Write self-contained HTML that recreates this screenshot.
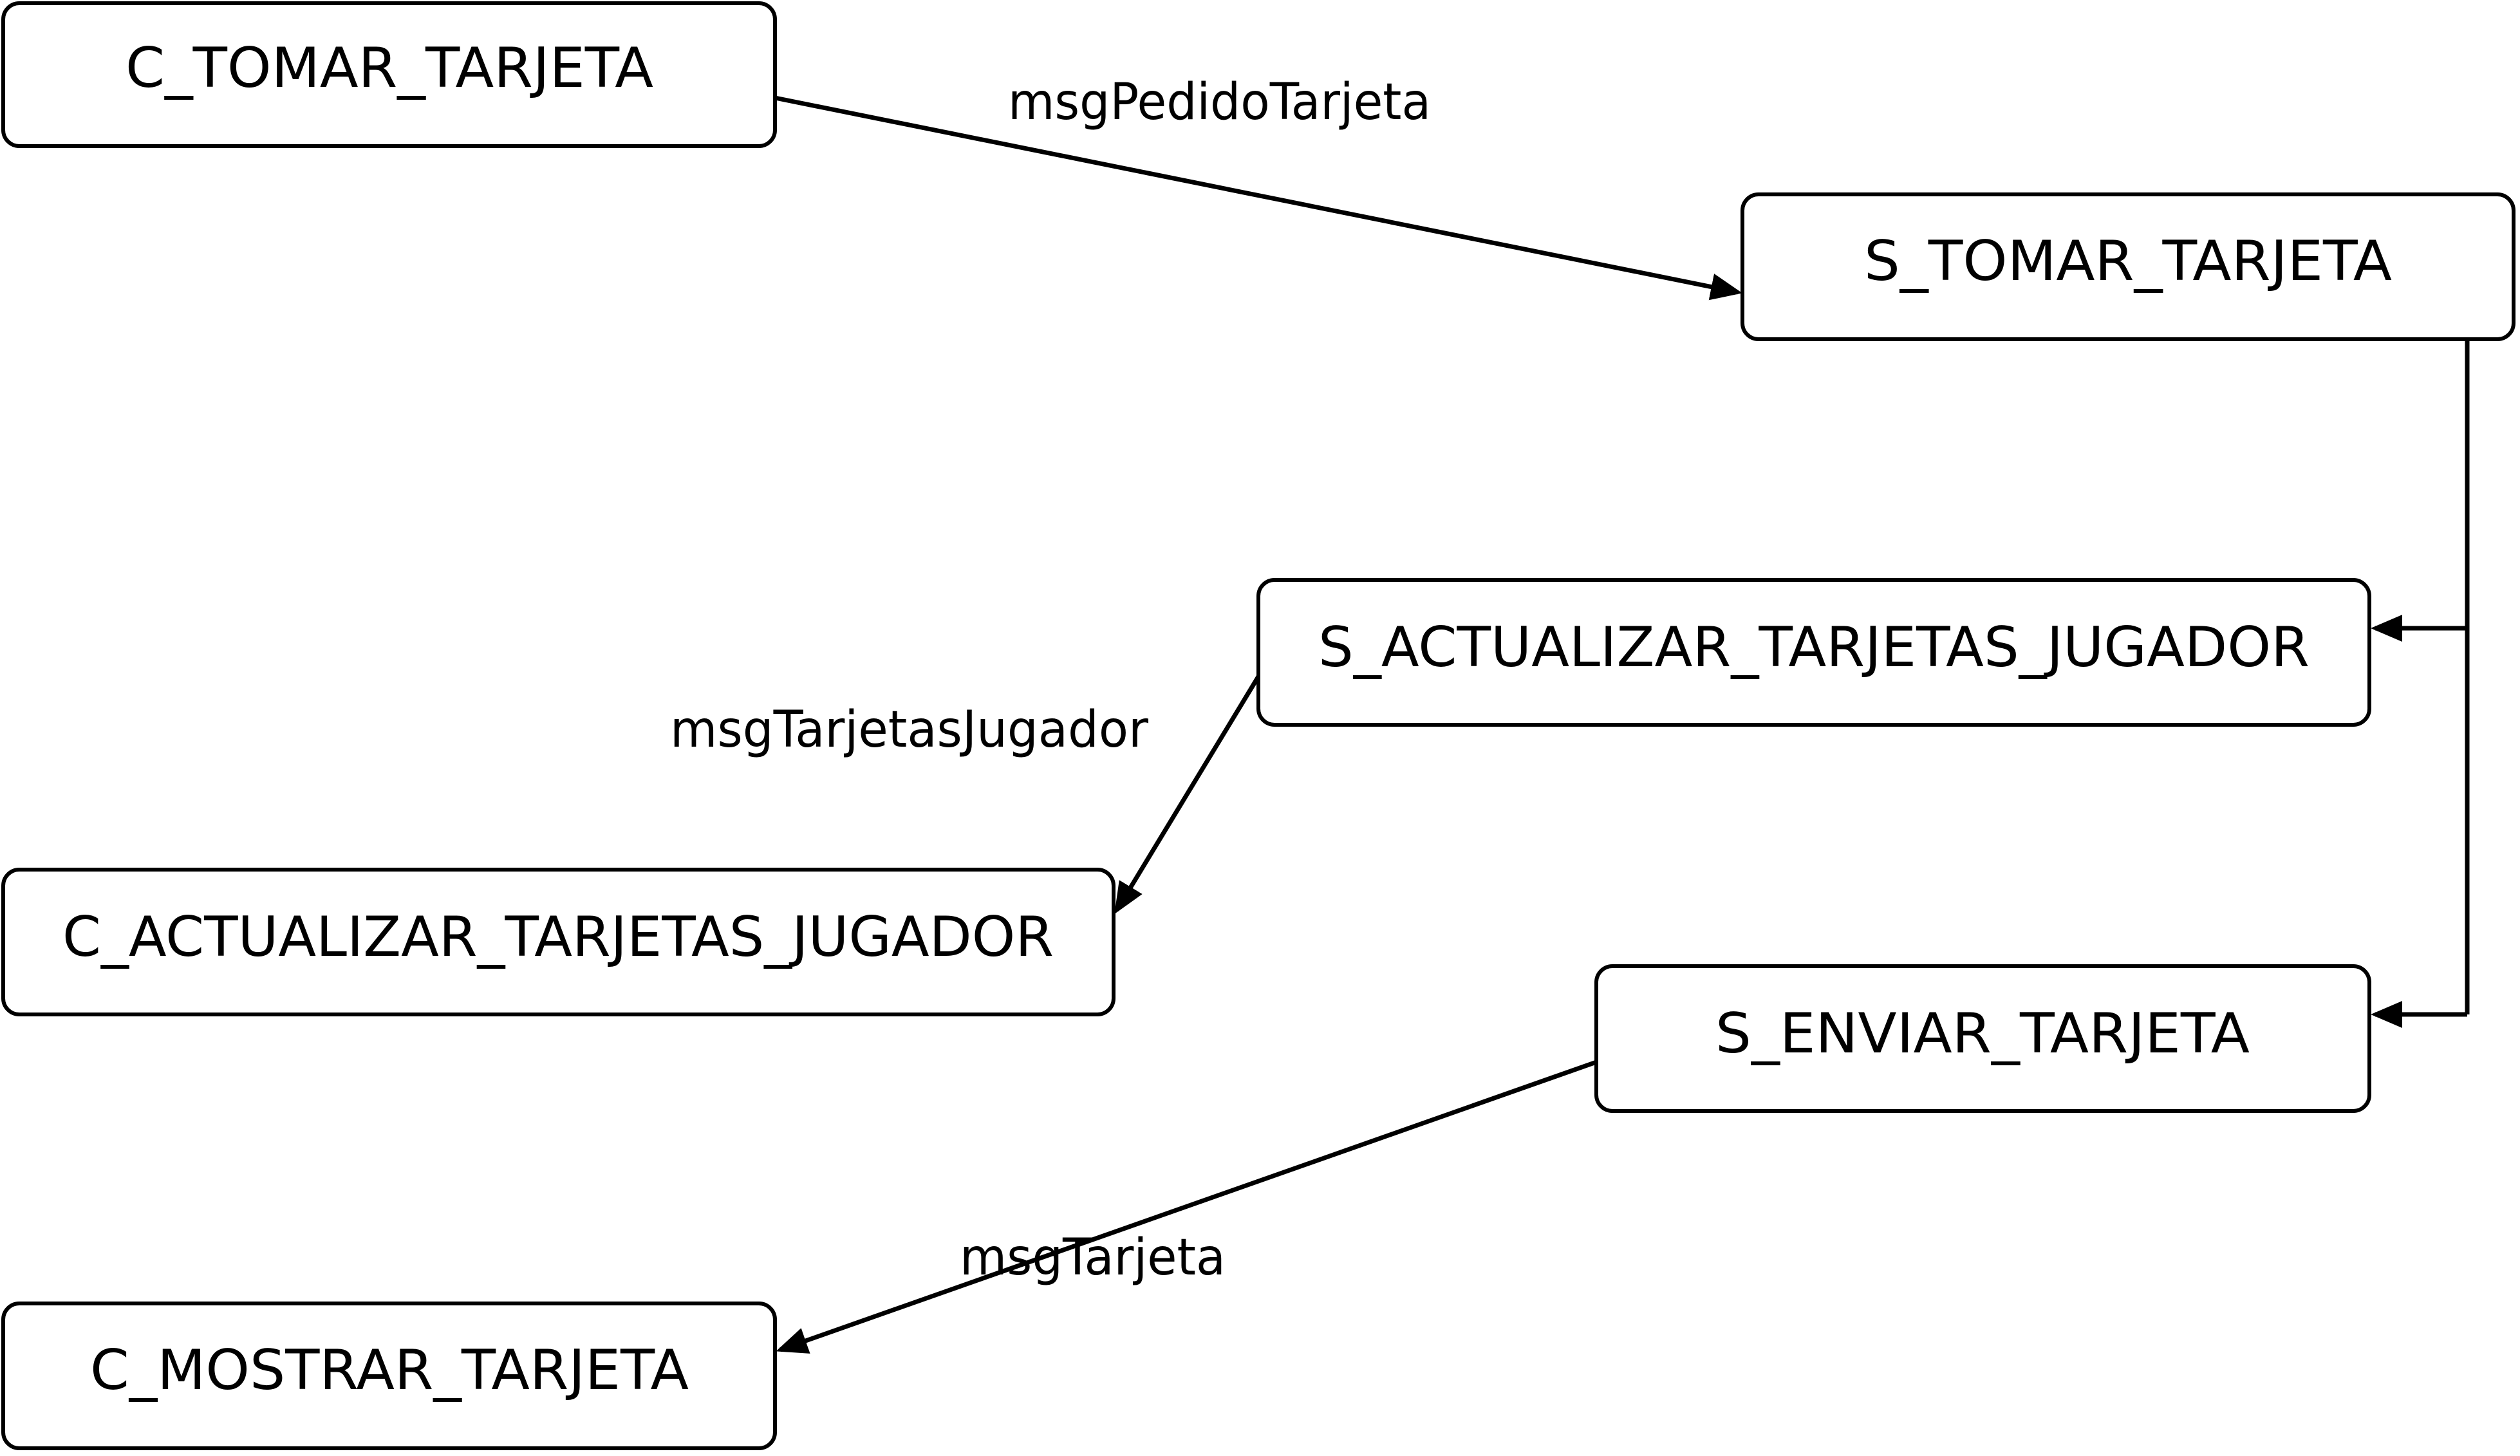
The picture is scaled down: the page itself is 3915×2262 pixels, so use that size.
<!DOCTYPE html>
<html><head><meta charset="utf-8"><style>html,body{margin:0;padding:0;background:#fff}svg{display:block}</style></head>
<body>
<svg width="3915" height="2262" viewBox="0 0 3915 2262" xmlns="http://www.w3.org/2000/svg" font-family="'DejaVu Sans','Liberation Sans',sans-serif">
<defs>
<marker id="a" markerWidth="7" markerHeight="6" refX="6" refY="3" orient="auto" markerUnits="strokeWidth"><path d="M0,0 L7,3 L0,6 z" fill="#000"/></marker>
</defs>
<g fill="#fff" stroke="#000" stroke-width="6">
<rect x="5" y="5" width="1199" height="222" rx="25"/>
<rect x="2707" y="302" width="1198" height="225" rx="25"/>
<rect x="1955" y="901" width="1726" height="225" rx="25"/>
<rect x="5" y="1351" width="1725" height="225" rx="25"/>
<rect x="2480" y="1501" width="1201" height="225" rx="25"/>
<rect x="5" y="2025" width="1199" height="225" rx="25"/>
</g>
<g stroke="#000" stroke-width="7" fill="none">
<line x1="1204" y1="152" x2="2700" y2="454" marker-end="url(#a)"/>
<line x1="3833" y1="527" x2="3833" y2="1576"/>
<line x1="3833" y1="976" x2="3690" y2="976" marker-end="url(#a)"/>
<line x1="3833" y1="1576" x2="3690" y2="1576" marker-end="url(#a)"/>
<line x1="1955" y1="1051" x2="1735" y2="1414" marker-end="url(#a)"/>
<line x1="2480" y1="1650" x2="1212" y2="2097" marker-end="url(#a)"/>
</g>
<g font-size="86" text-anchor="middle" fill="#000">
<text x="605" y="135" textLength="820" lengthAdjust="spacingAndGlyphs">C_TOMAR_TARJETA</text>
<text x="3306" y="435" textLength="820" lengthAdjust="spacingAndGlyphs">S_TOMAR_TARJETA</text>
<text x="2818" y="1035" textLength="1540" lengthAdjust="spacingAndGlyphs">S_ACTUALIZAR_TARJETAS_JUGADOR</text>
<text x="867" y="1485" textLength="1540" lengthAdjust="spacingAndGlyphs">C_ACTUALIZAR_TARJETAS_JUGADOR</text>
<text x="3080" y="1635" textLength="830" lengthAdjust="spacingAndGlyphs">S_ENVIAR_TARJETA</text>
<text x="605" y="2158" textLength="930" lengthAdjust="spacingAndGlyphs">C_MOSTRAR_TARJETA</text>
</g>
<g font-size="78" fill="#000">
<text x="1566" y="185" textLength="657" lengthAdjust="spacingAndGlyphs">msgPedidoTarjeta</text>
<text x="1041" y="1160" textLength="743" lengthAdjust="spacingAndGlyphs">msgTarjetasJugador</text>
<text x="1491" y="1980" textLength="413" lengthAdjust="spacingAndGlyphs">msgTarjeta</text>
</g>
</svg>
</body></html>
